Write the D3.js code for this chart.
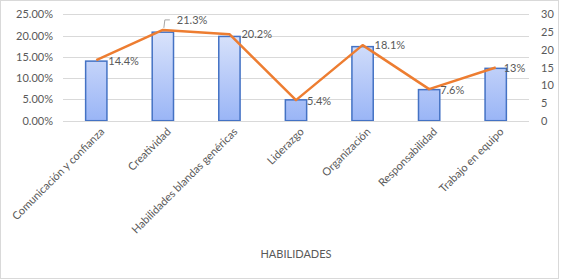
<!DOCTYPE html>
<html><head><meta charset="utf-8">
<script src="https://cdn.jsdelivr.net/npm/d3@7/dist/d3.min.js"></script>
<style>body{margin:0;background:#fff}svg{display:block;font-family:Lato,"Open Sans",sans-serif}</style>
</head><body><svg id="c" width="562" height="279"></svg>
<script>
const categories = ["Comunicación y confianza","Creatividad","Habilidades blandas genéricas","Liderazgo","Organización","Responsabilidad","Trabajo en equipo"];
const barValues = [14.0, 20.8, 19.8, 4.9, 17.4, 7.3, 12.3];
const lineValues = [17.1, 25.6, 24.4, 5.8, 21.3, 8.9, 15.0];
const lineLabels = ["14.4%","21.3%","20.2%","5.4%","18.1%","7.6%","13%"];
const leftTicks = [0,5,10,15,20,25];
const rightTicks = [0,5,10,15,20,25,30];
const axisTitle = "HABILIDADES";

const svg = d3.select("#c");
const W=562,H=279;
const m={l:63,r:529,t:14.3,b:120.7};
svg.append("rect").attr("x",0.5).attr("y",0.5).attr("width",W-4).attr("height",H-1).attr("fill","#fff").attr("stroke","#d9d9d9");

const x = d3.scaleBand().domain(categories).range([m.l,m.r]).paddingInner(0.68).paddingOuter(0.34);
const yL = d3.scaleLinear().domain([0,25]).range([m.b,m.t]);
const yR = d3.scaleLinear().domain([0,30]).range([m.b,m.t]);
const gray="#595959";

// gridlines
svg.append("g").selectAll("line").data(leftTicks).join("line")
  .attr("x1",m.l).attr("x2",m.r).attr("y1",d=>Math.round(yL(d))+0.5).attr("y2",d=>Math.round(yL(d))+0.5)
  .attr("stroke","#d9d9d9").attr("stroke-width",1);

// left axis
const gl = svg.append("g").attr("transform",`translate(${m.l},0)`)
  .call(d3.axisLeft(yL).tickValues(leftTicks).tickFormat(d=>d.toFixed(2)+"%").tickSize(0).tickPadding(10));
gl.select(".domain").remove();
gl.selectAll("text").attr("fill",gray).style("font-size","11px").style("font-family","Lato");

const gr = svg.append("g").attr("transform",`translate(${m.r},0)`)
  .call(d3.axisRight(yR).tickValues(rightTicks).tickSize(0).tickPadding(12));
gr.select(".domain").remove();
gr.selectAll("text").attr("fill",gray).style("font-size","11px").style("font-family","Lato");

// gradient
const defs=svg.append("defs");
const grad=defs.append("linearGradient").attr("id","bg").attr("x1",0).attr("x2",0).attr("y1",0).attr("y2",1).attr("gradientUnits","userSpaceOnUse")
  .attr("y1",m.t).attr("y2",m.b);
grad.append("stop").attr("offset","0%").attr("stop-color","#e6ecfc");
grad.append("stop").attr("offset","100%").attr("stop-color","#9ab5f6");

svg.append("g").selectAll("rect").data(barValues).join("rect")
  .attr("x",(d,i)=>x(categories[i])).attr("width",x.bandwidth())
  .attr("y",d=>yL(d)).attr("height",d=>m.b-yL(d))
  .attr("fill","url(#bg)").attr("stroke","#4472c4").attr("stroke-width",1.5);

// baseline
svg.append("line").attr("x1",m.l).attr("x2",m.r).attr("y1",Math.round(m.b)+0.5).attr("y2",Math.round(m.b)+0.5).attr("stroke","#d9d9d9");

const cx = i=>x(categories[i])+x.bandwidth()/2;
const line=d3.line().x((d,i)=>cx(i)).y(d=>yR(d));
svg.append("path").datum(lineValues).attr("d",line).attr("fill","none").attr("stroke","#ed7d31").attr("stroke-width",2.5).attr("stroke-linejoin","round");

// leader line for label 2
const p2x=cx(1), p2y=yR(lineValues[1]);
svg.append("path").attr("d",`M${p2x+1},${p2y-2} L${p2x+2},${p2y-10} L${p2x+7},${p2y-10}`).attr("fill","none").attr("stroke","#a6a6a6").attr("stroke-width",1);

const offs=[[12,1],[14,-10],[12,0],[11,1],[12,0],[11,1],[8,1]];
svg.append("g").selectAll("text").data(lineLabels).join("text")
  .attr("x",(d,i)=>cx(i)+offs[i][0]).attr("y",(d,i)=>yR(lineValues[i])+offs[i][1]).attr("dy","0.35em")
  .attr("fill",gray).style("font-size","11px").text(d=>d);

// x labels
svg.append("g").selectAll("text").data(categories).join("text")
  .attr("transform",(d,i)=>`translate(${cx(i)+6},${m.b+9}) rotate(-45)`)
  .attr("text-anchor","end").attr("dy","0.35em").attr("fill",gray).style("font-size","11px").text(d=>d);

svg.append("text").attr("x",(m.l+m.r)/2).attr("y",254).attr("dy","0.35em").attr("text-anchor","middle")
  .attr("fill",gray).style("font-size","11px").text(axisTitle);
</script></body></html>
